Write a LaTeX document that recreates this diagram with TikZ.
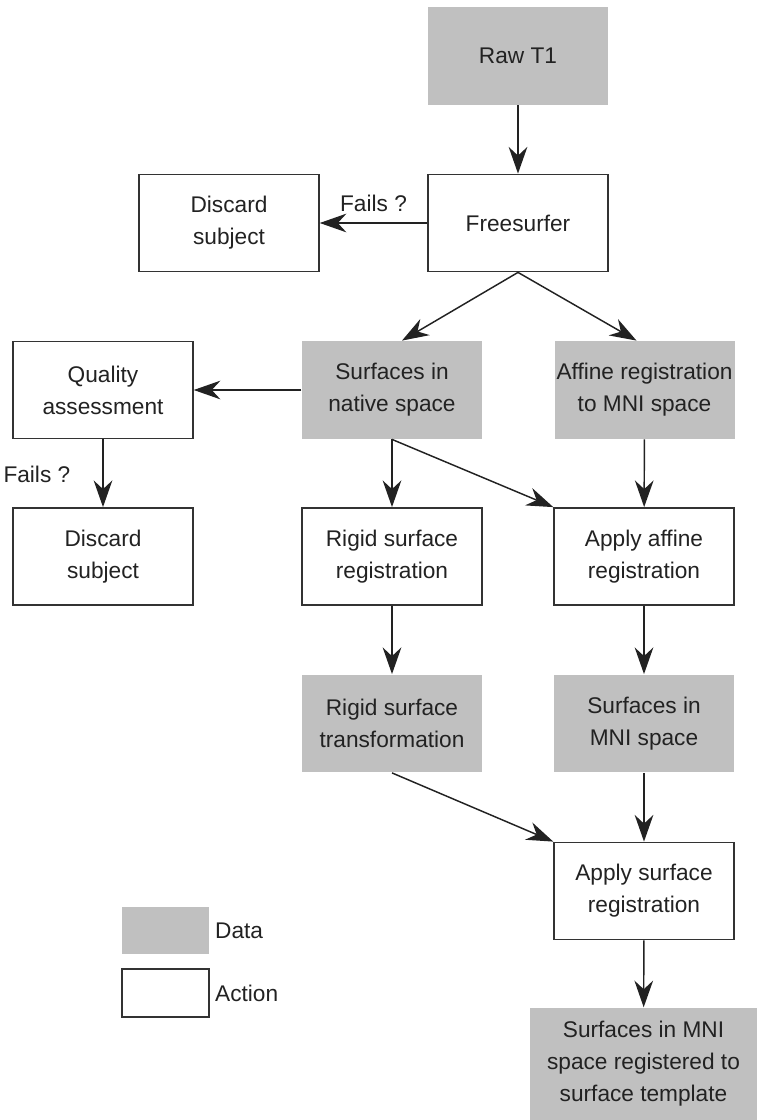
\documentclass[tikz,border=0pt]{standalone}
\usepackage{fontspec}
\setmainfont{Liberation Sans}
\usepackage{tikz}
\usetikzlibrary{arrows.meta,calc,positioning}
\definecolor{flowGray}{HTML}{C0C0C0}
\definecolor{flowInk}{HTML}{222222}
\definecolor{flowEdge}{HTML}{333333}

\begin{document}
\begin{tikzpicture}[
  x=0.75pt,
  y=-0.75pt,
  line/.style={-{Stealth[length=20pt, width=14pt, inset=6.5pt]}, line width=1.1pt, draw=flowInk},
  box/.style={
    draw=flowEdge,
    line width=1.1pt,
    align=center,
    minimum width=135pt,
    minimum height=73pt,
    inner sep=0pt,
    fill=white,
    text=flowInk,
    font=\fontsize{17}{24}\selectfont
  },
  databox/.style={box, draw=none, fill=flowGray},
  finalbox/.style={databox, minimum width=170pt, minimum height=84pt},
  keydata/.style={databox, minimum width=65pt, minimum height=35pt},
  keyaction/.style={box, minimum width=65pt, minimum height=36pt},
  lbl/.style={text=flowInk, font=\fontsize{17}{24}\selectfont, inner sep=2pt}
]
\useasboundingbox (0,0) rectangle (757,1120);

\node[databox]   (raw)       at (518,   56)   {Raw T1};
\node[box]       (free)      at (518,  223)   {Freesurfer};
\node[box]       (discA)     at (229,  223)   {Discard\\subject};
\node[databox]   (native)    at (392,  390)   {Surfaces in\\native space};
\node[databox]   (affine)    at (644.5,390)   {Affine registration\\to MNI space};
\node[box]       (quality)   at (103,  390)   {Quality\\assessment};
\node[box]       (discB)     at (103,  556.5) {Discard\\subject};
\node[box]       (rigidreg)  at (392,  556.5) {Rigid surface\\registration};
\node[box]       (applyaff)  at (644,  556.5) {Apply affine\\registration};
\node[databox]   (rigidtr)   at (392,  723.5) {Rigid surface\\transformation};
\node[databox]   (mni)       at (644,  723.5) {Surfaces in\\MNI space};
\node[box]       (applysurf) at (644,  891)   {Apply surface\\registration};
\node[finalbox]  (final)     at (643.5,1064)  {Surfaces in MNI\\space registered to\\surface template};

% legend
\node[keydata]   (keyD)      at (165.5,930.5) {};
\node[keyaction] (keyA)      at (165.5,993)   {};
\node[lbl, right=2pt of keyD] (keyDtxt) {Data};
\node[lbl, right=2pt of keyA] (keyAtxt) {Action};

\draw[line] (raw) -- (free);
\draw[line] (free) -- node[lbl, above=6pt, pos=0.5] {Fails ?} (discA);
\draw[line] (free.south) -- ($(native.north)+(10,0)$);
\draw[line] (free.south) -- ($(affine.north)+(-8,0)$);
\draw[line] (native) -- (quality);
\draw[line] (quality) -- node[lbl, left=22pt, pos=0.52] {Fails ?} (discB);
\draw[line] (native.south) -- (rigidreg.north);
\draw[line] (native.south) -- (applyaff.north west);
\draw[line] (affine) -- (applyaff);
\draw[line] (rigidreg) -- (rigidtr);
\draw[line] (applyaff) -- (mni);
\draw[line] (rigidtr.south) -- (applysurf.north west);
\draw[line] (mni) -- (applysurf);
\draw[line] (applysurf) -- (final);
\end{tikzpicture}
\end{document}
